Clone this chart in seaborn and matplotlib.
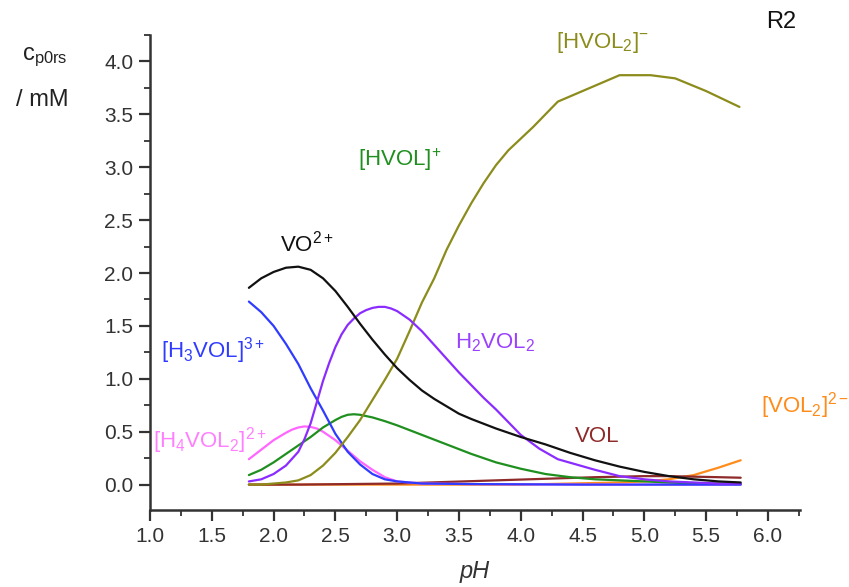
import matplotlib
matplotlib.use("Agg")
import matplotlib.pyplot as plt
from matplotlib.ticker import MultipleLocator, FormatStrFormatter
import seaborn as sns
import pandas as pd

sns.set_theme(style="white")
plt.rcParams["font.family"] = ["Liberation Sans", "DejaVu Sans"]
plt.rcParams["mathtext.fontset"] = "custom"
plt.rcParams["mathtext.rm"] = "Liberation Sans"
plt.rcParams["mathtext.it"] = "Liberation Sans:italic"
plt.rcParams["mathtext.default"] = "regular"

# species distribution, concentrations in mM versus pH
ph_vo = [1.8, 1.9, 2.0, 2.1, 2.2, 2.3, 2.4, 2.5, 2.6, 2.7, 2.8, 2.9, 3.0, 3.1, 3.2, 3.3, 3.4,
         3.5, 3.6, 3.8, 4.0, 4.2, 4.4, 4.6, 4.8, 5.0, 5.2, 5.4, 5.6, 5.78]
c_vo = [1.86, 1.95, 2.01, 2.05, 2.06, 2.03, 1.95, 1.83, 1.68, 1.52, 1.37, 1.23, 1.10, 0.99, 0.89, 0.81, 0.74,
        0.67, 0.62, 0.53, 0.45, 0.38, 0.30, 0.23, 0.17, 0.12, 0.08, 0.05, 0.03, 0.02]

ph_h3vol = [1.8, 1.9, 2.0, 2.1, 2.2, 2.3, 2.4, 2.5, 2.6, 2.7, 2.8, 2.9, 3.0, 3.2, 3.6, 4.5, 5.78]
c_h3vol = [1.73, 1.63, 1.50, 1.33, 1.14, 0.91, 0.70, 0.48, 0.31, 0.19, 0.10, 0.05, 0.03, 0.01, 0.005, 0.0, 0.0]

ph_h4vol2 = [1.8, 1.9, 2.0, 2.1, 2.15, 2.2, 2.25, 2.3, 2.35, 2.4, 2.5, 2.6, 2.7, 2.8, 2.9, 3.0, 3.2, 3.6, 4.5, 5.78]
c_h4vol2 = [0.24, 0.33, 0.42, 0.49, 0.52, 0.54, 0.55, 0.545, 0.53, 0.50, 0.42, 0.32, 0.22, 0.14, 0.07, 0.03, 0.01, 0.005, 0.0, 0.0]

ph_h2vol2 = [1.8, 1.9, 2.0, 2.1, 2.2, 2.25, 2.3, 2.35, 2.4, 2.45, 2.5, 2.55, 2.6, 2.65, 2.7, 2.75, 2.8, 2.85,
             2.9, 2.95, 3.0, 3.1, 3.2, 3.3, 3.4, 3.5, 3.6, 3.7, 3.8, 3.9, 4.0, 4.15, 4.3, 4.6, 4.8,
             5.0, 5.2, 5.4, 5.6, 5.78]
c_h2vol2 = [0.03, 0.05, 0.10, 0.18, 0.31, 0.43, 0.58, 0.78, 0.98, 1.15, 1.30, 1.42, 1.51, 1.57, 1.62, 1.65, 1.67, 1.68,
            1.68, 1.665, 1.64, 1.56, 1.45, 1.32, 1.19, 1.06, 0.94, 0.82, 0.71, 0.59, 0.47, 0.34, 0.24, 0.14, 0.08,
            0.05, 0.03, 0.02, 0.01, 0.01]

ph_hvol = [1.8, 1.9, 2.0, 2.1, 2.2, 2.3, 2.4, 2.5, 2.55, 2.6, 2.65, 2.7, 2.8, 2.9, 3.0, 3.2, 3.4, 3.6, 3.8,
           4.0, 4.2, 4.4, 4.6, 4.8, 5.0, 5.2, 5.4, 5.6, 5.78]
c_hvol = [0.09, 0.14, 0.21, 0.29, 0.37, 0.45, 0.54, 0.61, 0.64, 0.66, 0.665, 0.66, 0.635, 0.60, 0.56, 0.47, 0.38, 0.29, 0.21,
          0.15, 0.10, 0.07, 0.05, 0.04, 0.03, 0.02, 0.01, 0.01, 0.005]

ph_hvol2 = [1.8, 1.9, 2.0, 2.1, 2.2, 2.3, 2.4, 2.5, 2.6, 2.7, 2.8, 2.9, 3.0, 3.1, 3.2, 3.3, 3.4,
            3.5, 3.6, 3.7, 3.8, 3.9, 4.0, 4.1, 4.3, 4.5, 4.8, 5.05, 5.25, 5.5, 5.77]
c_hvol2 = [0.0, 0.0, 0.01, 0.02, 0.04, 0.09, 0.18, 0.30, 0.45, 0.61, 0.80, 0.99, 1.19, 1.45, 1.72, 1.95, 2.22,
           2.45, 2.66, 2.85, 3.02, 3.16, 3.27, 3.38, 3.62, 3.72, 3.87, 3.87, 3.84, 3.72, 3.57]

ph_vol = [1.8, 2.2, 2.6, 3.0, 3.4, 3.8, 4.2, 4.6, 5.0, 5.2, 5.4, 5.6, 5.78]
c_vol = [0.0, 0.0, 0.005, 0.01, 0.025, 0.04, 0.055, 0.07, 0.08, 0.08, 0.075, 0.07, 0.065]

ph_vol2 = [1.8, 4.0, 4.2, 4.4, 4.6, 4.8, 5.0, 5.2, 5.4, 5.6, 5.78]
c_vol2 = [0.0, 0.0, 0.005, 0.01, 0.015, 0.02, 0.03, 0.05, 0.09, 0.16, 0.23]

series = [
    (ph_vol2, c_vol2, "#ff8c1a"),
    (ph_vol, c_vol, "#8e2a2a"),
    (ph_h4vol2, c_h4vol2, "#ff66ff"),
    (ph_hvol, c_hvol, "#1f8f1f"),
    (ph_h3vol, c_h3vol, "#2f3cff"),
    (ph_hvol2, c_hvol2, "#8c8c1c"),
    (ph_h2vol2, c_h2vol2, "#8b2cff"),
    (ph_vo, c_vo, "#111111"),
]

fig = plt.figure(figsize=(8.49, 5.87), dpi=100)
ax = fig.add_axes([0.1767, 0.1312, 0.7656, 0.8092])

for ph, c, col in series:
    df = pd.DataFrame({"pH": ph, "c": c})
    sns.lineplot(data=df, x="pH", y="c", color=col, linewidth=1.6, ax=ax, sort=False)

ax.set_xlim(1.0, 6.26)
ax.set_ylim(-0.24, 4.25)
ax.xaxis.set_major_locator(MultipleLocator(0.5))
ax.xaxis.set_minor_locator(MultipleLocator(0.25))
ax.yaxis.set_major_locator(MultipleLocator(0.5))
ax.yaxis.set_minor_locator(MultipleLocator(0.25))
ax.xaxis.set_major_formatter(FormatStrFormatter("%.1f"))
ax.yaxis.set_major_formatter(FormatStrFormatter("%.1f"))

for side in ("top", "right"):
    ax.spines[side].set_visible(False)
for side in ("left", "bottom"):
    ax.spines[side].set_color("#333333")
    ax.spines[side].set_linewidth(1.8)
ax.tick_params(which="major", direction="out", length=8, width=1.6, color="#333333",
               labelsize=15, labelcolor="#333333", left=True, bottom=True, pad=4)
ax.tick_params(which="minor", direction="out", length=4, width=1.3, color="#333333",
               left=True, bottom=True)

ax.set_xlabel("pH", fontsize=17, style="italic", color="#333333", labelpad=10)
ax.set_ylabel("")
fig.text(0.053, 0.903, r"c$_{p0rs}$", fontsize=17, color="#222222", ha="center", va="center")
fig.text(0.05, 0.83, "/ mM", fontsize=17, color="#222222", ha="center", va="center")

labels = [
    (2.27, 2.28, r"VO$^{2+}$", "#111111"),
    (3.02, 3.07, r"[HVOL]$^{+}$", "#1f8f1f"),
    (4.66, 4.18, r"[HVOL$_2$]$^{-}$", "#8c8c1c"),
    (6.11, 4.37, "R2", "#111111"),
    (1.51, 1.27, r"[H$_3$VOL]$^{3+}$", "#2f3cff"),
    (3.79, 1.34, r"H$_2$VOL$_2$", "#9a40ff"),
    (1.48, 0.42, r"[H$_4$VOL$_2$]$^{2+}$", "#ff80ff"),
    (4.62, 0.45, "VOL", "#8e2a2a"),
    (6.30, 0.75, r"[VOL$_2$]$^{2-}$", "#ff8c1a"),
]
for x, y, txt, col in labels:
    size = 17 if txt == "R2" else 16
    ax.text(x, y, txt, color=col, fontsize=size, ha="center", va="center", clip_on=False)

fig.savefig("out.png", dpi=100, facecolor="white")
